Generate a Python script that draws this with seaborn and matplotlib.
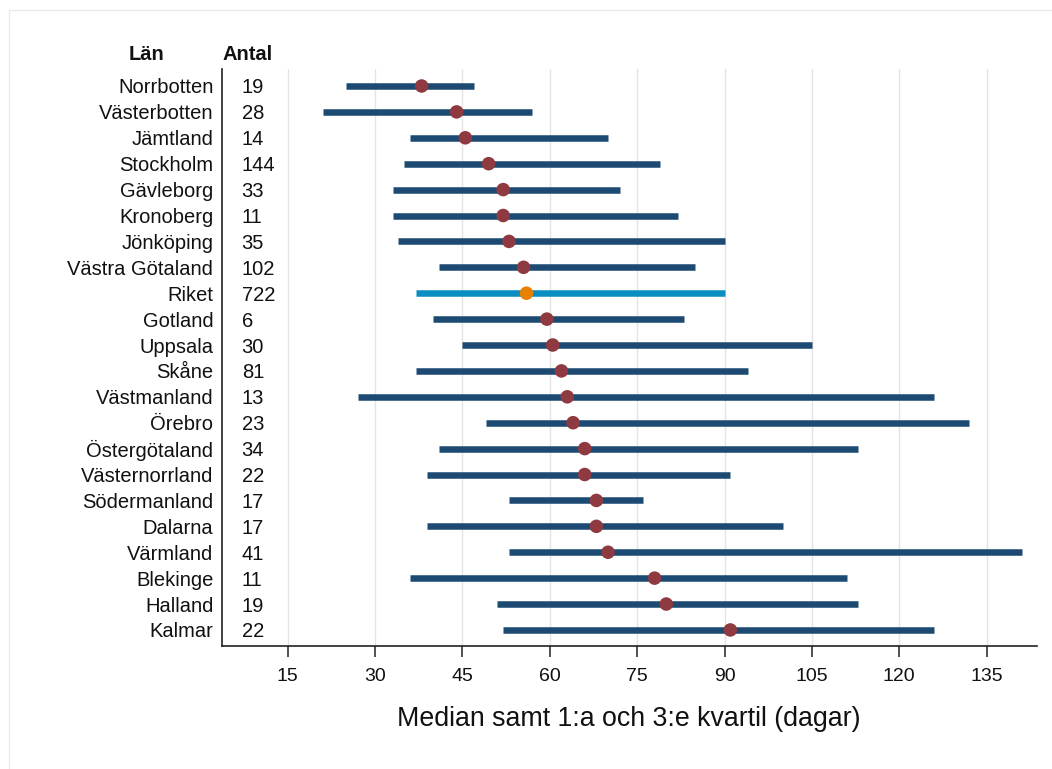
import numpy as np
import pandas as pd
import matplotlib
matplotlib.use("Agg")
import matplotlib.pyplot as plt
from matplotlib.lines import Line2D
import seaborn as sns

# Counties, ordered by median processing time
lan = ["Norrbotten", "Västerbotten", "Jämtland", "Stockholm", "Gävleborg",
       "Kronoberg", "Jönköping", "Västra Götaland", "Riket", "Gotland",
       "Uppsala", "Skåne", "Västmanland", "Örebro", "Östergötaland",
       "Västernorrland", "Södermanland", "Dalarna", "Värmland", "Blekinge",
       "Halland", "Kalmar"]
antal = [19, 28, 14, 144, 33, 11, 35, 102, 722, 6, 30, 81, 13, 23, 34, 22,
         17, 17, 41, 11, 19, 22]
kvartil1 = [25, 21, 36, 35, 33, 33, 34, 41, 37, 40, 45, 37, 27, 49, 41, 39,
            53, 39, 53, 36, 51, 52]
median = [38, 44, 45.5, 49.5, 52, 52, 53, 55.5, 56, 59.5, 60.5, 62, 63, 64,
          66, 66, 68, 68, 70, 78, 80, 91]
kvartil3 = [47, 57, 70, 79, 72, 82, 90, 85, 90, 83, 105, 94, 126, 132, 113,
            91, 76, 100, 141, 111, 113, 126]
xticks = [15, 30, 45, 60, 75, 90, 105, 120, 135]

df = pd.DataFrame({"lan": lan, "antal": antal, "q1": kvartil1,
                   "median": median, "q3": kvartil3})
df["pos"] = np.arange(len(df))
df["grupp"] = np.where(df["lan"] == "Riket", "Riket", "Län")

BAR = "#1c4a72"
DOT = "#8e3a40"
RIKET_BAR = "#0a8ec2"
RIKET_DOT = "#e88100"

sns.set_theme(style="white")
plt.rcParams["font.family"] = ["Liberation Sans", "DejaVu Sans"]

W, H = 1052, 769
fig = plt.figure(figsize=(W / 100, H / 100), dpi=100)
ax = fig.add_axes([221.7 / W, 1 - 646 / H, (1036.7 - 221.7) / W, (646 - 69) / H])

# Interquartile ranges
for grp, col in [("Län", BAR), ("Riket", RIKET_BAR)]:
    sub = df[df["grupp"] == grp]
    ax.hlines(sub["pos"], sub["q1"], sub["q3"], color=col, lw=4.7,
              capstyle="butt", zorder=2)

# Medians
sns.scatterplot(data=df, x="median", y="pos", hue="grupp",
                palette={"Län": DOT, "Riket": RIKET_DOT}, s=95,
                edgecolor="none", legend=False, zorder=3, ax=ax)

ax.set_xlim(3.67, 143.6)
ax.set_ylim(21.62, -0.656)
ax.set_xticks(xticks)
ax.set_xticklabels([str(t) for t in xticks], fontsize=14, color="#111111")
ax.set_yticks(df["pos"])
ax.set_yticklabels(df["lan"], fontsize=14.5, color="#111111")
ax.tick_params(axis="y", length=0, pad=6)
ax.tick_params(axis="x", length=8, width=1.1, color="#222222",
               direction="out", pad=8, bottom=True)
ax.xaxis.grid(True, color="#e4e4e4", lw=1.0)
ax.set_axisbelow(True)
ax.yaxis.grid(False)
for side in ["top", "right"]:
    ax.spines[side].set_visible(False)
for side in ["left", "bottom"]:
    ax.spines[side].set_color("#222222")
    ax.spines[side].set_linewidth(1.2)

ax.set_xlabel("Median samt 1:a och 3:e kvartil (dagar)", fontsize=19.3,
              color="#111111", labelpad=15)
ax.set_ylabel("")

# Count column inside the plot area
trans = ax.get_yaxis_transform()
for p, n in zip(df["pos"], df["antal"]):
    ax.text(20 / 815, p, str(n), transform=trans, ha="left",
            va="center_baseline", fontsize=14.5, color="#111111")

# Column headers
fig.text(146 / W, 1 - 52 / H, "Län", ha="center", va="center_baseline",
         fontsize=14.5, fontweight="bold", color="#111111")
fig.text(222.3 / W, 1 - 52 / H, "Antal", ha="left", va="center_baseline",
         fontsize=14.5, fontweight="bold", color="#111111")

# Thin page frame
fig.add_artist(Line2D([9.5 / W, 9.5 / W], [0, 1 - 10.3 / H],
                      transform=fig.transFigure, color="#e6ecec", lw=1))
fig.add_artist(Line2D([9.5 / W, 1], [1 - 10.3 / H, 1 - 10.3 / H],
                      transform=fig.transFigure, color="#e6ecec", lw=1))

fig.savefig("out.png", dpi=100, facecolor="white")
